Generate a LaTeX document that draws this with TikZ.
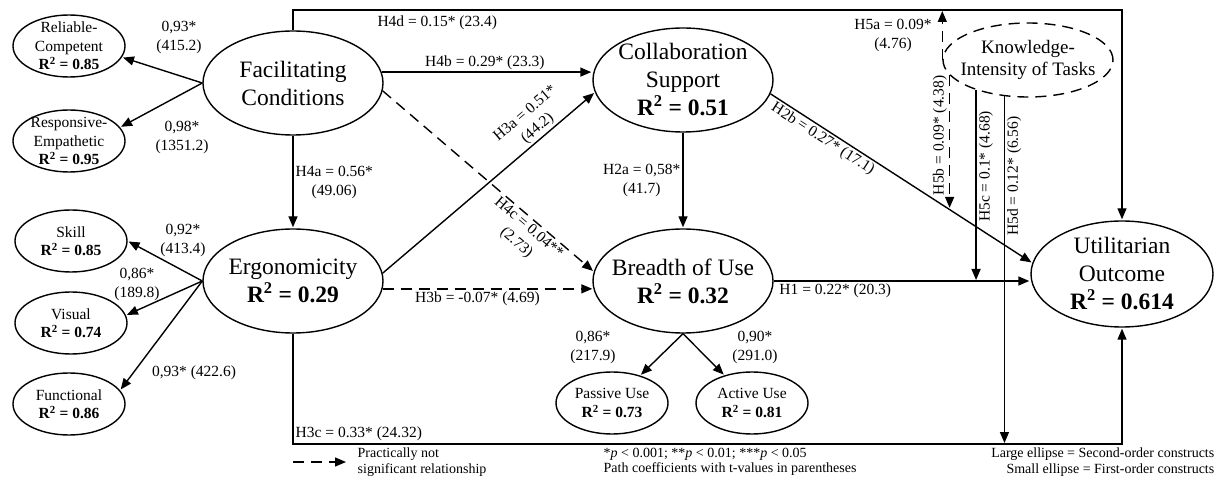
\documentclass[tikz,border=0pt]{standalone}
\usepackage{fontspec}
\setmainfont{Liberation Serif}
\usetikzlibrary{shapes.geometric,arrows.meta,calc}

\begin{document}
\begin{tikzpicture}[x=1pt, y=-1pt, line width=1.4pt, shorten >=1pt, >={Triangle[length=11pt,width=9pt]},
  big node/.style={ellipse, draw, minimum width=180pt, minimum height=104pt, inner sep=-12pt, align=center, font={\fontsize{23.5}{28}\selectfont}},
  small node/.style={ellipse, draw, minimum width=112pt, minimum height=62pt, inner sep=-8pt, align=center, font={\fontsize{15.5}{18.5}\selectfont}},
  coef/.style={font={\fontsize{15.5}{19}\selectfont}, align=center, inner sep=2pt},
  legend/.style={font={\fontsize{14}{15.5}\selectfont}, inner sep=0pt},
  nonsig/.style={dash pattern=on 11pt off 7pt}]
\useasboundingbox (0,0) rectangle (1219,486);
\coordinate (topline) at (0,10);
\coordinate (botline) at (0,444);

% second-order constructs
\node [big node] (fc) at (293,83) {Facilitating\\Conditions};
\node [big node] (ergo) at (293,281) {Ergonomicity\\\textbf{R\textsuperscript{2} = 0.29}};
\node [big node] (cs) at (683,80) {Collaboration\\Support\\\textbf{R\textsuperscript{2} = 0.51}};
\node [big node] (bu) at (683,281) {Breadth of Use\\\textbf{R\textsuperscript{2} = 0.32}};
\node [big node, minimum width=182pt, minimum height=106pt] (uo) at (1122,274) {Utilitarian\\Outcome\\\textbf{R\textsuperscript{2} = 0.614}};
\node [big node, nonsig, minimum width=170pt, minimum height=74pt, font={\fontsize{19}{22}\selectfont}] (kit) at (1028,60) {Knowledge-\\Intensity of Tasks};

% first-order constructs
\node [small node] (rc) at (69,46) {Reliable-\\Competent\\\textbf{R\textsuperscript{2} = 0.85}};
\node [small node] (re) at (69,141) {Responsive-\\Empathetic\\\textbf{R\textsuperscript{2} = 0.95}};
\node [small node] (sk) at (71,241) {Skill\\\textbf{R\textsuperscript{2} = 0.85}};
\node [small node] (vi) at (71,323) {Visual\\\textbf{R\textsuperscript{2} = 0.74}};
\node [small node] (fu) at (69,404) {Functional\\\textbf{R\textsuperscript{2} = 0.86}};
\node [small node] (pu) at (612,403) {Passive Use\\\textbf{R\textsuperscript{2} = 0.73}};
\node [small node] (au) at (752,403) {Active Use\\\textbf{R\textsuperscript{2} = 0.81}};

% loadings
\node [coef] (l1) at (179,37) {0,93*\\(415.2)};
\node [coef] (l2) at (182,137) {0,98*\\(1351.2)};
\node [coef] (l3) at (183,240) {0,92*\\(413.4)};
\node [coef] (l4) at (137,284) {0,86*\\(189.8)};
\node [coef] (l5) at (194,373) {0,93* (422.6)};
\node [coef] (l6) at (593,347) {0,86*\\(217.9)};
\node [coef] (l7) at (755,347) {0,90*\\(291.0)};

\path[->]
    (fc.west) edge (rc.-12)
    (fc.west) edge (re.15)
    (ergo.west) edge (sk.east)
    (ergo.west) edge (vi.8)
    (ergo.west) edge (fu.15)
    (bu.south) edge (pu)
    (bu.south) edge (au)
    (fc) edge node[coef, right] (h4a) {H4a = 0.56*\\(49.06)} (ergo)
    (fc.7) edge node[coef, above, pos=.49] (h4b) {H4b = 0.29* (23.3)} (fc.7 -| cs.west)
    (ergo.5) edge node[coef, sloped, above, pos=.76] (h3a) {H3a = 0.51*\\(44.2)} (cs.188)
    (cs) edge node[coef, left] (h2a) {H2a = 0,58*\\(41.7)} (bu)
    (cs.-9) edge node[coef, sloped, below, pos=.22] (h2b) {H2b = 0.27* (17.1)} (uo.173)
    (bu.east) edge node[coef, below, pos=.24] (h1) {H1 = 0.22* (20.3)} (bu.east -| uo.west)
         ;
\path[->, nonsig]
    (fc.-5) edge node[coef, sloped, below=0pt, pos=.72] (h4c) {H4c = 0.04**\\(2.73)} (bu.174)
    (ergo.-5) edge node[coef, below, pos=.45] (h3b) {H3b = -0.07* (4.69)} (bu.185)
         ;

\draw[->] (fc.north) -- (fc.north |- topline) -- node[coef, below=3pt, pos=.174] (h4d) {H4d = 0.15* (23.4)} (uo.north |- topline) -- (uo.north);
\draw[->] (ergo.south) -- (ergo.south |- botline) node[coef, above right] (h3c) {H3c = 0.33* (24.32)} -- (uo.south |- botline) -- (uo.south);

% moderation
\coordinate (h2bpt) at ($(cs.-9)!0.68!(uo.173)$);
\draw[->, nonsig] (kit.west) -- node[coef, left=8pt] (h5a) {H5a = 0.09*\\(4.76)} (kit.west |- topline);
\draw[->, nonsig] (kit.191) -- node[coef, rotate=90, anchor=south, pos=.45] (h5b) {H5b = 0.09* (4.38)} (kit.191 |- h2bpt);
\draw[->] (kit.210) -- node[coef, rotate=90, anchor=north, pos=.4] (h5c) {H5c = 0.1* (4.68)} (kit.210 |- bu.east);
\draw[->] (kit.237) -- node[coef, rotate=90, anchor=north, pos=.23] (h5d) {H5d = 0.12* (6.56)} (kit.237 |- botline);

% legend
\coordinate (lgs) at (293,462);
\coordinate (lge) at (347,462);
\draw[->, nonsig] (lgs) -- (lge);
\node [legend, anchor=west, align=left] (lgnon) at (357,462) {Practically not\\significant relationship};
\node [legend, anchor=west, align=left] (lgp) at (603,462) {*\textit{p} < 0.001; **\textit{p} < 0.01; ***\textit{p} < 0.05\\Path coefficients with t-values in parentheses};
\node [legend, anchor=east, align=right] (lgell) at (1215,462) {Large ellipse = Second-order constructs\\Small ellipse = First-order constructs};
\end{tikzpicture}
\end{document}
